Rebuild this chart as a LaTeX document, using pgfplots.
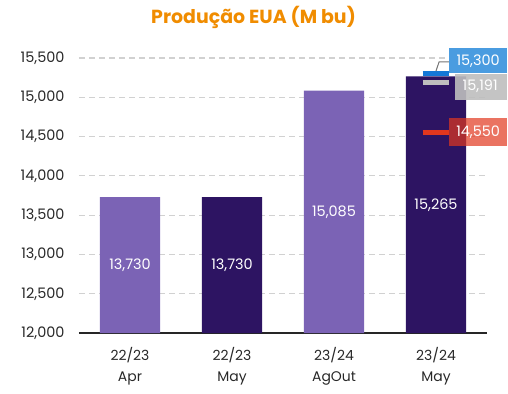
\documentclass[border=0pt]{standalone}
\usepackage{pgfplots}
\pgfplotsset{compat=1.18}
\usepackage{fontspec}
\setmainfont{Poppins}
\definecolor{lpurple}{RGB}{123,99,181}
\definecolor{dpurple}{RGB}{45,20,98}
\definecolor{ttlorange}{RGB}{240,140,0}
\definecolor{mblue}{RGB}{20,120,215}
\definecolor{bblue}{RGB}{74,156,224}
\definecolor{mgray}{RGB}{190,190,190}
\definecolor{mred}{RGB}{225,55,30}
\definecolor{txt}{RGB}{40,40,40}
\begin{document}
\begin{tikzpicture}
\path[use as bounding box] (-79bp,-61bp) rectangle (429bp,333bp);
\begin{axis}[
  at={(0,0)}, anchor=south west,
  scale only axis, width=408bp, height=290.7bp,
  xmin=-0.5, xmax=3.5, ymin=12000, ymax=15700,
  clip=false,
  scaled y ticks=false,
  axis x line*=bottom, axis y line*=left,
  y axis line style={draw=none},
  x axis line style={draw=black!85, line width=1.2pt, -},
  xtick={0,1,2,3},
  xticklabels={22/23\\Apr, 22/23\\May, 23/24\\AgOut, 23/24\\May},
  x tick label style={align=center, font=\fontsize{14}{21}\selectfont, text=txt, yshift=-11bp},
  xtick style={draw=none},
  ytick={12000,12500,...,15500},
  ytick style={draw=none},
  yticklabel style={font=\fontsize{14.5}{16}\selectfont, text=txt, xshift=-11bp},
  yticklabel={\pgfmathprintnumber[assume math mode=true, 1000 sep={,}]{\tick}},
  ymajorgrids,
  grid style={dashed, dash pattern=on 6bp off 4bp, draw=black!18, line width=1.2pt},
]
\addplot[ybar, bar width=0.59, bar shift=0pt, fill=lpurple, draw=none] coordinates {(0,13730) (2,15085)};
\addplot[ybar, bar width=0.59, bar shift=0pt, fill=dpurple, draw=none] coordinates {(1,13730) (3,15265)};
\addplot[mblue, line width=5bp] coordinates {(2.87,15305) (3.13,15305)};
\addplot[mgray, line width=5bp] coordinates {(2.87,15191) (3.13,15191)};
\addplot[mred, line width=5bp] coordinates {(2.87,14558) (3.13,14558)};
\draw[black!55, line width=1pt] (axis cs:3.0,15335) -- (axis cs:3.03,15450) -- (axis cs:3.13,15450);
\node[anchor=west, fill=bblue, text=white, minimum width=58bp, minimum height=25bp, inner sep=0pt, font=\fontsize{14.5}{16}\selectfont] at (axis cs:3.127,15465) {15,300};
\node[anchor=west, fill=mgray, fill opacity=0.9, text opacity=1, text=white, minimum width=52bp, minimum height=26bp, inner sep=0pt, font=\fontsize{14.5}{16}\selectfont] at (axis cs:3.186,15135) {\hspace*{-2bp}15,191};
\node[anchor=west, fill=mred, fill opacity=0.7, text opacity=1, text=white, minimum width=58bp, minimum height=28bp, inner sep=0pt, font=\fontsize{14.5}{16}\selectfont] at (axis cs:3.127,14558) {14,550};
\node[text=white, font=\fontsize{14.5}{16}\selectfont] at (axis cs:0,12865) {13,730};
\node[text=white, font=\fontsize{14.5}{16}\selectfont] at (axis cs:1,12865) {13,730};
\node[text=white, font=\fontsize{14.5}{16}\selectfont] at (axis cs:2,13542) {15,085};
\node[text=white, font=\fontsize{14.5}{16}\selectfont] at (axis cs:3,13632) {15,265};
\end{axis}
\node[text=ttlorange, font=\bfseries\fontsize{19}{21}\selectfont] at (174.5bp,316bp) {Produção EUA (M bu)};
\end{tikzpicture}
\end{document}
